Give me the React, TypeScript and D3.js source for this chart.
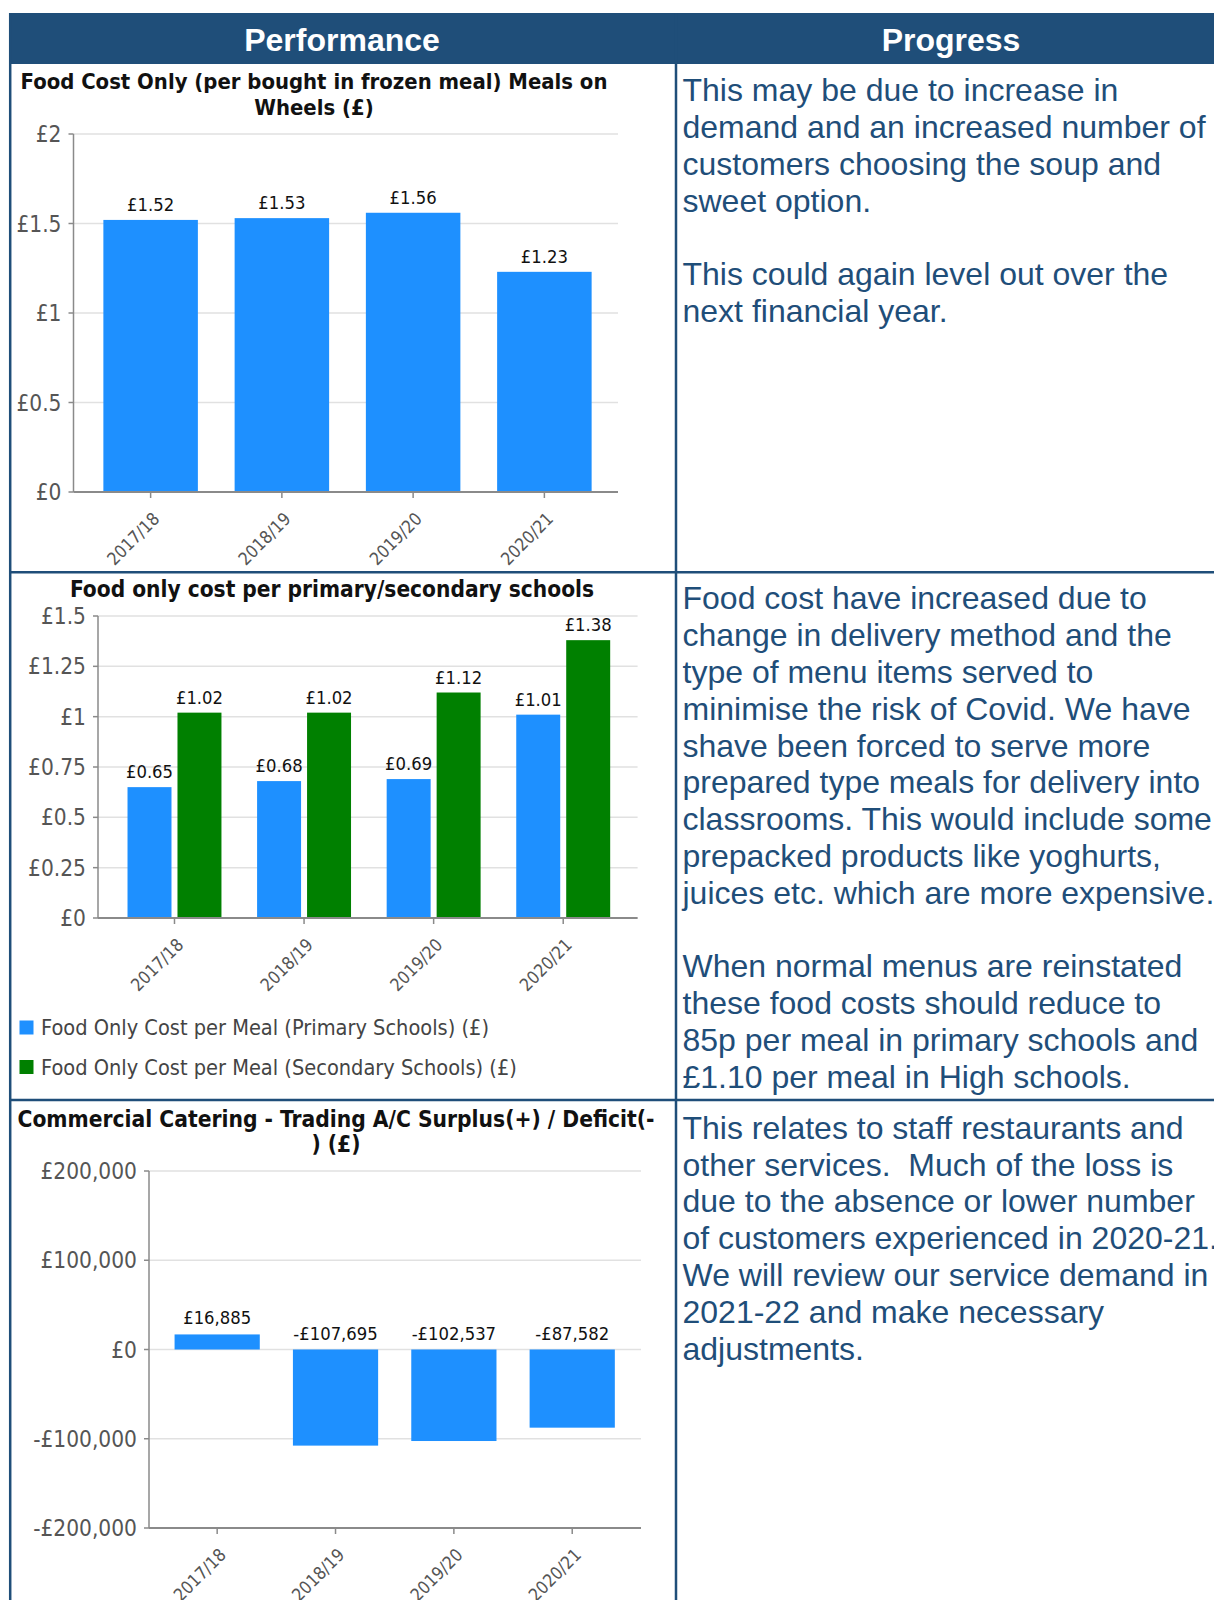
import React from 'react';
import * as d3 from 'd3';

// ---- data ----
const years = ['2017/18', '2018/19', '2019/20', '2020/21'];
const mealsOnWheelsCost = [1.52, 1.53, 1.56, 1.23];
const primaryCost = [0.65, 0.68, 0.69, 1.01];
const secondaryCost = [1.02, 1.02, 1.12, 1.38];
const tradingResult = [16885, -107695, -102537, -87582];

const mealsTicks = [0, 0.5, 1, 1.5, 2];
const schoolTicks = [0, 0.25, 0.5, 0.75, 1, 1.25, 1.5];
const tradingTicks = [-200000, -100000, 0, 100000, 200000];

const schoolSeries = [
  'Food Only Cost per Meal (Primary Schools) (£)',
  'Food Only Cost per Meal (Secondary Schools) (£)',
];

const mealsTitle = ['Food Cost Only (per bought in frozen meal) Meals on', 'Wheels (£)'];
const schoolTitle = ['Food only cost per primary/secondary schools'];
const tradingTitle = ['Commercial Catering - Trading A/C Surplus(+) / Deficit(-', ') (£)'];

const progressNotes = [
  [
    'This may be due to increase in',
    'demand and an increased number of',
    'customers choosing the soup and',
    'sweet option.',
    '',
    'This could again level out over the',
    'next financial year.',
  ],
  [
    'Food cost have increased due to',
    'change in delivery method and the',
    'type of menu items served to',
    'minimise the risk of Covid. We have',
    'shave been forced to serve more',
    'prepared type meals for delivery into',
    'classrooms. This would include some',
    'prepacked products like yoghurts,',
    'juices etc. which are more expensive.',
    '',
    'When normal menus are reinstated',
    'these food costs should reduce to',
    '85p per meal in primary schools and',
    '£1.10 per meal in High schools.',
  ],
  [
    'This relates to staff restaurants and',
    'other services.  Much of the loss is',
    'due to the absence or lower number',
    'of customers experienced in 2020-21.',
    'We will review our service demand in',
    '2021-22 and make necessary',
    'adjustments.',
  ],
];

// ---- styling ----
const NAVY = '#1F4E79';
const BLUE = '#1E90FF';
const GREEN = '#008000';
const GRID = '#e1e1e1';
const AXIS = '#8a8a8a';
const TICK_TEXT = '#555555';
const CHART_FONT = '"DejaVu Sans Condensed", "DejaVu Sans", sans-serif';
const BODY_FONT = '"Liberation Sans", Arial, sans-serif';

const W = 1214;
const H = 1600;

const pence = (v: number) => `£${d3.format('.2f')(v)}`;
const poundTick = (v: number) => `£${v}`;
const money = (v: number) => `${v < 0 ? '-' : ''}£${d3.format(',')(Math.abs(v))}`;

type Lin = d3.ScaleLinear<number, number>;
type Band = d3.ScaleBand<string>;

function YAxis({ y, ticks, x0, x1, fmt }: { y: Lin; ticks: number[]; x0: number; x1: number; fmt: (v: number) => string }) {
  const [yb, yt] = y.range();
  return (
    <g>
      {ticks.map((t) => (
        <line key={'g' + t} x1={x0} x2={x1} y1={y(t)} y2={y(t)} stroke={GRID} strokeWidth={1.5} />
      ))}
      {ticks.map((t) => (
        <line key={'k' + t} x1={x0 - 5} x2={x0} y1={y(t)} y2={y(t)} stroke={AXIS} strokeWidth={1.5} />
      ))}
      {ticks.map((t) => (
        <text key={'t' + t} x={x0 - 12} y={y(t)} dy="0.36em" textAnchor="end" fill={TICK_TEXT}
          fontFamily={CHART_FONT} fontSize={22.5}>
          {fmt(t)}
        </text>
      ))}
      <line x1={x0} x2={x0} y1={yb} y2={yt} stroke={AXIS} strokeWidth={1.5} />
    </g>
  );
}

function XAxis({ x, axisY, x0, x1 }: { x: Band; axisY: number; x0: number; x1: number }) {
  return (
    <g>
      <line x1={x0} x2={x1} y1={axisY} y2={axisY} stroke={AXIS} strokeWidth={2} />
      {x.domain().map((d) => {
        const cx = (x(d) ?? 0) + x.bandwidth() / 2;
        return (
          <g key={d}>
            <line x1={cx} x2={cx} y1={axisY} y2={axisY + 6} stroke={AXIS} strokeWidth={1.5} />
            <text transform={`translate(${cx + 10},${axisY + 28}) rotate(-45)`} textAnchor="end"
              fill={TICK_TEXT} fontFamily={CHART_FONT} fontSize={17.5}>
              {d}
            </text>
          </g>
        );
      })}
    </g>
  );
}

function Title({ lines, cx, y0, size = 22.4 }: { lines: string[]; cx: number; y0: number; size?: number }) {
  return (
    <text textAnchor="middle" fill="#111" fontFamily={CHART_FONT} fontWeight="bold" fontSize={size}>
      {lines.map((l, i) => (
        <tspan key={i} x={cx} y={y0 + i * 25.5}>{l}</tspan>
      ))}
    </text>
  );
}

function ValueLabel({ x, y, text }: { x: number; y: number; text: string }) {
  return (
    <text x={x} y={y} textAnchor="middle" fill="#111" fontFamily={CHART_FONT} fontSize={18.3}>
      {text}
    </text>
  );
}

function MealsChart() {
  const x0 = 73.5, x1 = 618;
  const y = d3.scaleLinear().domain([0, 2]).range([492, 134]);
  const x = d3.scaleBand<string>().domain(years).range([85, 610]).paddingInner(0.28).paddingOuter(0.14);
  return (
    <g>
      <Title lines={mealsTitle} cx={314} y0={89} size={21.9} />
      <YAxis y={y} ticks={mealsTicks} x0={x0} x1={x1} fmt={poundTick} />
      {years.map((d, i) => {
        const v = mealsOnWheelsCost[i];
        const bx = x(d) ?? 0;
        return (
          <g key={d}>
            <rect x={bx} y={y(v)} width={x.bandwidth()} height={y(0) - y(v)} fill={BLUE} />
            <ValueLabel x={bx + x.bandwidth() / 2} y={y(v) - 9} text={pence(v)} />
          </g>
        );
      })}
      <XAxis x={x} axisY={y(0)} x0={x0} x1={x1} />
    </g>
  );
}

function SchoolsChart() {
  const x0 = 98, x1 = 637.6;
  const y = d3.scaleLinear().domain([0, 1.5]).range([918, 616]);
  const x = d3.scaleBand<string>().domain(years).range([109.7, 628]).paddingInner(0.275).paddingOuter(0.1375);
  const sub = d3.scaleBand<string>().domain(['p', 's']).range([0, x.bandwidth()]).paddingInner(0.12);
  const series = [
    { key: 'p', values: primaryCost, color: BLUE },
    { key: 's', values: secondaryCost, color: GREEN },
  ];
  return (
    <g>
      <Title lines={schoolTitle} cx={332} y0={597} size={22.5} />
      <YAxis y={y} ticks={schoolTicks} x0={x0} x1={x1} fmt={poundTick} />
      {years.map((d, i) => (
        <g key={d} transform={`translate(${x(d) ?? 0},0)`}>
          {series.map((s) => {
            const v = s.values[i];
            const bx = sub(s.key) ?? 0;
            return (
              <g key={s.key}>
                <rect x={bx} y={y(v)} width={sub.bandwidth()} height={y(0) - y(v)} fill={s.color} />
                <ValueLabel x={bx + sub.bandwidth() / 2} y={y(v) - 9} text={pence(v)} />
              </g>
            );
          })}
        </g>
      ))}
      <XAxis x={x} axisY={y(0)} x0={x0} x1={x1} />
      {schoolSeries.map((label, i) => (
        <g key={label} transform={`translate(19.5,${1027.5 + i * 39.5})`}>
          <rect x={0} y={-7} width={14} height={14} fill={i === 0 ? BLUE : GREEN} />
          <text x={21.5} y={0} dy="0.36em" fill="#444" fontFamily={CHART_FONT} fontSize={21.6}>{label}</text>
        </g>
      ))}
    </g>
  );
}

function TradingChart() {
  const x0 = 149, x1 = 641;
  const y = d3.scaleLinear().domain([-200000, 200000]).range([1528, 1171]);
  const x = d3.scaleBand<string>().domain(years).range([158, 631.4]).paddingInner(0.28).paddingOuter(0.14);
  return (
    <g>
      <Title lines={tradingTitle} cx={336} y0={1126.5} size={22.6} />
      <YAxis y={y} ticks={tradingTicks} x0={x0} x1={x1} fmt={money} />
      {years.map((d, i) => {
        const v = tradingResult[i];
        const bx = x(d) ?? 0;
        const top = Math.min(y(v), y(0));
        return (
          <g key={d}>
            <rect x={bx} y={top} width={x.bandwidth()} height={Math.abs(y(v) - y(0))} fill={BLUE} />
            <ValueLabel x={bx + x.bandwidth() / 2} y={top - 10} text={money(v)} />
          </g>
        );
      })}
      <XAxis x={x} axisY={y(-200000)} x0={x0} x1={x1} />
    </g>
  );
}

function Notes() {
  const starts = [101.3, 609.3, 1138.8];
  return (
    <g fontFamily={BODY_FONT} fontSize={32} fill={NAVY}>
      {progressNotes.map((lines, r) => (
        <text key={r} style={{ whiteSpace: 'pre' }}>
          {lines.map((l, i) => (
            <tspan key={i} x={682.5} y={starts[r] + i * 36.8}>{l}</tspan>
          ))}
        </text>
      ))}
    </g>
  );
}

export default function App() {
  return (
    <svg width={W} height={H} viewBox={`0 0 ${W} ${H}`}
      style={{ position: 'absolute', left: 0, top: 0, background: '#fff', display: 'block' }}>
      <rect x={0} y={0} width={W} height={H} fill="#fff" />
      {/* table frame */}
      <rect x={9} y={13} width={W - 9} height={51} fill={NAVY} />
      <text x={342} y={51} textAnchor="middle" fill="#fff" fontFamily={BODY_FONT} fontWeight="bold" fontSize={32}>Performance</text>
      <text x={951} y={51} textAnchor="middle" fill="#fff" fontFamily={BODY_FONT} fontWeight="bold" fontSize={32}>Progress</text>
      <line x1={10.2} x2={10.2} y1={13} y2={H} stroke={NAVY} strokeWidth={2.5} />
      <line x1={676} x2={676} y1={13} y2={H} stroke={NAVY} strokeWidth={2.5} />
      <line x1={9} x2={W} y1={572.3} y2={572.3} stroke={NAVY} strokeWidth={2.5} />
      <line x1={9} x2={W} y1={1100} y2={1100} stroke={NAVY} strokeWidth={2.5} />

      <MealsChart />
      <SchoolsChart />
      <TradingChart />
      <Notes />
    </svg>
  );
}
